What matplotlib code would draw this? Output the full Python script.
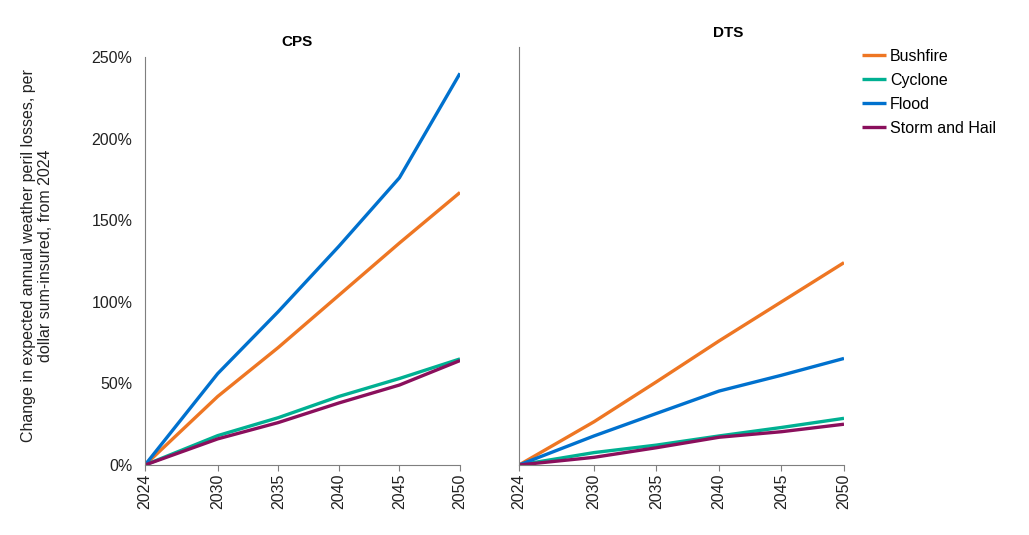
import matplotlib
matplotlib.use("Agg")
import matplotlib.pyplot as plt
from matplotlib.ticker import FuncFormatter

plt.rcParams['font.family'] = ['Liberation Sans', 'DejaVu Sans']

years = [2024, 2030, 2035, 2040, 2045, 2050]
series_names = ["Bushfire", "Cyclone", "Flood", "Storm and Hail"]
colors = ["#EE7623", "#00B092", "#0071CE", "#8A0F5C"]

cps_bushfire = [0, 42, 72, 104, 136, 167]
cps_cyclone = [0, 18, 29, 42, 53, 65]
cps_flood = [0, 56, 94, 134, 176, 240]
cps_storm = [0, 16, 26, 38, 49, 64]

dts_bushfire = [0, 26.5, 51, 76, 100, 124]
dts_cyclone = [0, 7.6, 12.2, 17.8, 23, 28.6]
dts_flood = [0, 17.8, 31.6, 45.3, 55, 65.3]
dts_storm = [0, 4.7, 10.6, 17, 20.4, 25]

y_ticks = [0, 50, 100, 150, 200, 250]

W, H = 1029, 535
fig = plt.figure(figsize=(W / 100, H / 100), dpi=100)

def px_axes(left, top, right, bottom):
    return fig.add_axes([left / W, 1 - bottom / H, (right - left) / W, (bottom - top) / H])

ax1 = px_axes(145, 57, 460, 465)
ax2 = px_axes(519, 47, 844, 465)

axis_col = "#7f7f7f"
fs = 11.5
for ax, data in [(ax1, [cps_bushfire, cps_cyclone, cps_flood, cps_storm]),
                 (ax2, [dts_bushfire, dts_cyclone, dts_flood, dts_storm])]:
    for name, vals, c in zip(series_names, data, colors):
        ax.plot(years, vals, color=c, lw=2.4, label=name, solid_capstyle='butt')
    ax.set_xlim(2024, 2050)
    ax.set_xticks(years)
    ax.set_xticklabels([str(y) for y in years], rotation=90, fontsize=fs, color="#222222")
    for s in ["top", "right"]:
        ax.spines[s].set_visible(False)
    ax.spines["left"].set_color(axis_col)
    ax.spines["bottom"].set_color(axis_col)
    ax.tick_params(axis='x', direction='out', length=4, color=axis_col, pad=2)

ax1.set_ylim(0, 250)
ax1.set_yticks(y_ticks)
ax1.yaxis.set_major_formatter(FuncFormatter(lambda v, p: f"{int(v)}%"))
ax1.tick_params(axis='y', length=0, labelsize=fs, labelcolor="#222222", pad=9)

ax2.set_ylim(0, 250 * 418 / 408)
ax2.set_yticks([])

fig.text(297.5 / W, 1 - 42 / H, "CPS", ha='center', va='center', fontsize=11, fontweight='bold')
fig.text(728 / W, 1 - 33 / H, "DTS", ha='center', va='center', fontsize=11, fontweight='bold')

fig.text(37 / W, 1 - 256 / H,
         "Change in expected annual weather peril losses, per\ndollar sum-insured, from 2024",
         rotation=90, ha='center', va='center', fontsize=fs, multialignment='center',
         color="#222222", linespacing=1.15)

handles, labels = ax2.get_legend_handles_labels()
fig.legend(handles, labels, loc='upper left', bbox_to_anchor=(862 / W, 1 - 49 / H),
           frameon=False, fontsize=fs, handlelength=1.5, handletextpad=0.25,
           labelspacing=0.56, borderpad=0, borderaxespad=0)

fig.savefig("out.png", dpi=100)
